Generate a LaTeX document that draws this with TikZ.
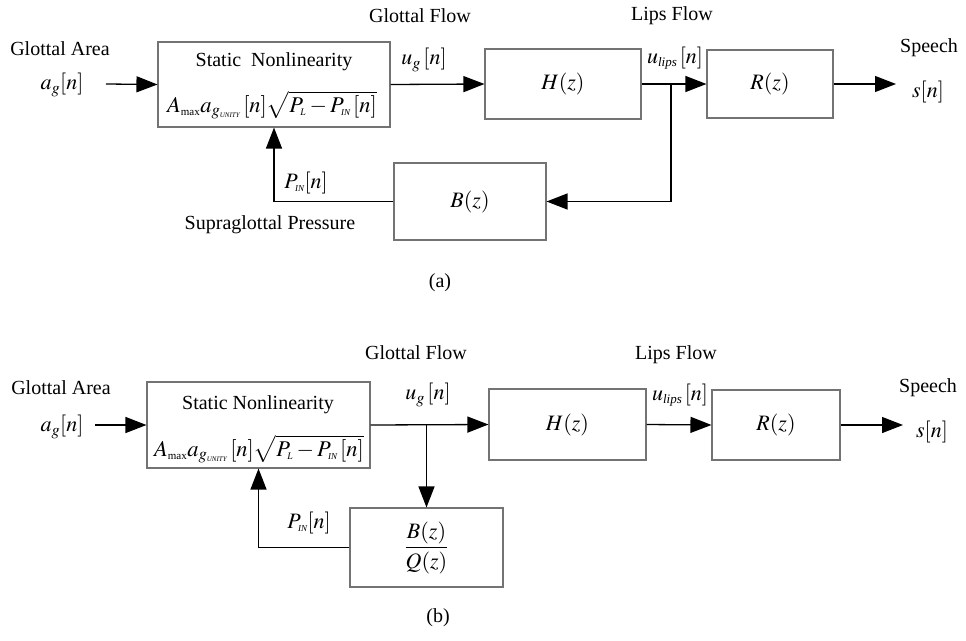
\documentclass[tikz,border=0pt]{standalone}
\usepackage{mathptmx}
\usepackage{fontspec}
\setmainfont{Liberation Serif}
\usetikzlibrary{arrows.meta}
\newcommand\tinysub[2]{\mbox{\fontsize{#1}{#1}\selectfont\itshape #2}}
\newcommand\mth[1]{{\fontsize{22}{26}\selectfont$#1$}}
\newcommand\formula{{\fontsize{22.5}{26}\selectfont$A_{\mbox{\fontsize{11}{11}\selectfont max}}a_{g_{\tinysub{7}{UNITY}}}\,[n]\sqrt{P_{\tinysub{10}{L}} - P_{\tinysub{9}{IN}}\,[n]}$}}
\begin{document}
\begin{tikzpicture}[x=1pt,y=-1pt,
  font=\fontsize{20}{24}\selectfont,
  blk/.style={draw=black!55,line width=1.1pt,inner sep=0pt,anchor=center},
  lbl/.style={inner sep=0pt,anchor=center},
  conn/.style={draw=black,line width=1.3pt},
  arr/.style={conn,-{Triangle[length=21pt,width=16pt]}}]
\useasboundingbox (0,0) rectangle (966,640);
% ---------- (a) ----------
\node[blk,minimum width=232pt,minimum height=85pt] (sn) at (274,84.5) {};
\node[lbl] (snt) at (274,62) {Static\ \ Nonlinearity};
\node[lbl] (snf) at (272,105) {\formula};
\node[blk,minimum width=156pt,minimum height=70pt] (H) at (563,84) {\mth{H(z)}};
\node[blk,minimum width=126pt,minimum height=68pt] (R) at (770,84) {\mth{R(z)}};
\node[blk,minimum width=152pt,minimum height=77pt] (B) at (470,201.5) {\mth{B(z)}};
\coordinate (ain) at (106,84);
\coordinate (sout) at (896,84);
\coordinate (jl) at (671,84);
\draw[arr] (ain) -- (sn.west);
\draw[arr] (sn.east) -- (H.west);
\draw[arr] (H.east) -- (R.west);
\draw[arr] (R.east) -- (sout);
\draw[arr] (jl) |- (B.east);
\draw[arr] (B.west) -| (sn.south);
\node[lbl] (ga) at (60,49) {Glottal Area};
\node[lbl] (ag) at (62,85) {\mth{a_g[n]}};
\node[lbl] (gf) at (420,16) {Glottal Flow};
\node[lbl] (ug) at (424,60) {\mth{u_g\,[n]}};
\node[lbl] (lf) at (672,16) {Lips Flow};
\node[lbl] (ul) at (675,58) {\mth{u_{\tinysub{13}{lips}}\,[n]}};
\node[lbl] (sp) at (929,48) {Speech};
\node[lbl] (sn_) at (928,92) {\mth{s[n]}};
\node[lbl] (pin) at (306,183) {\mth{P_{\tinysub{9}{IN}}[n]}};
\node[lbl] (sgp) at (270,225) {Supraglottal Pressure};
\node[lbl] (ca) at (440,283) {(a)};
% ---------- (b) ----------
\node[blk,minimum width=223pt,minimum height=86pt] (sn2) at (258.5,425) {};
\node[lbl] (snt2) at (258,405) {Static Nonlinearity};
\node[lbl] (snf2) at (259,449) {\formula};
\node[blk,minimum width=157pt,minimum height=71pt] (H2) at (567.5,424.5) {\mth{H(z)}};
\node[blk,minimum width=128pt,minimum height=70pt] (R2) at (776,425) {\mth{R(z)}};
\node[blk,minimum width=153pt,minimum height=79pt] (BQ) at (426.5,547.5) {\mth{\displaystyle\frac{B(z)}{Q(z)}}};
\coordinate (ain2) at (95,425);
\coordinate (sout2) at (903,425);
\coordinate (jg) at (426.5,425);
\draw[arr] (ain2) -- (sn2.west);
\draw[arr] (sn2.east) -- (H2.west);
\draw[arr] (H2.east) -- (R2.west);
\draw[arr] (R2.east) -- (sout2);
\draw[arr] (jg) -- (BQ.north);
\draw[arr] (BQ.west) -| (sn2.south);
\node[lbl] (ga2) at (61,388) {Glottal Area};
\node[lbl] (ag2) at (62,427) {\mth{a_g[n]}};
\node[lbl] (gf2) at (416,353) {Glottal Flow};
\node[lbl] (ug2) at (428,395) {\mth{u_g\,[n]}};
\node[lbl] (lf2) at (676,355) {Lips Flow};
\node[lbl] (ul2) at (680,395) {\mth{u_{\tinysub{13}{lips}}\,[n]}};
\node[lbl] (sp2) at (928,388) {Speech};
\node[lbl] (s2) at (932,432) {\mth{s[n]}};
\node[lbl] (pin2) at (309,523) {\mth{P_{\tinysub{9}{IN}}[n]}};
\node[lbl] (cb) at (438,618) {(b)};
\end{tikzpicture}
\end{document}
